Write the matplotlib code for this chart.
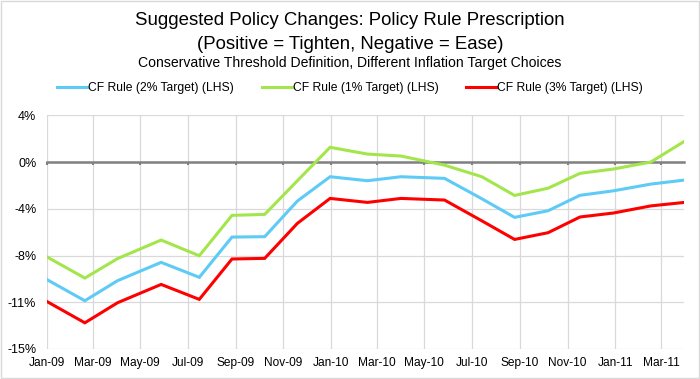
# Policy rule prescription chart (CF rule, three inflation targets)
import numpy as np
import pandas as pd
import matplotlib
matplotlib.use('Agg')
import matplotlib.pyplot as plt
import matplotlib.dates as mdates
from matplotlib.patches import Rectangle

plt.rcParams['font.family'] = ['Liberation Sans', 'DejaVu Sans']

# Data (meeting dates, values in %)
dates = pd.to_datetime([
    '2009-01-28', '2009-03-18', '2009-04-29', '2009-06-24', '2009-08-12',
    '2009-09-23', '2009-11-04', '2009-12-16', '2010-01-27', '2010-03-16',
    '2010-04-28', '2010-06-23', '2010-08-10', '2010-09-21', '2010-11-03',
    '2010-12-14', '2011-01-26', '2011-03-15', '2011-04-27'])

rule_2pct = [-9.42, -11.13, -9.52, -8.05, -9.25, -6.02, -5.99, -3.13, -1.18, -1.50,
             -1.18, -1.31, -2.95, -4.44, -3.91, -2.67, -2.31, -1.77, -1.45]
rule_1pct = [-7.60, -9.31, -7.75, -6.26, -7.52, -4.28, -4.20, -1.50, 1.18, 0.64,
             0.48, -0.25, -1.18, -2.68, -2.10, -0.91, -0.56, 0.00, 1.66]
rule_3pct = [-11.18, -12.90, -11.29, -9.82, -11.02, -7.78, -7.73, -4.92, -2.92, -3.24,
             -2.92, -3.05, -4.72, -6.21, -5.67, -4.41, -4.09, -3.52, -3.24]

series_names = ['CF Rule (2% Target) (LHS)', 'CF Rule (1% Target) (LHS)',
                'CF Rule (3% Target) (LHS)']
series_colors = ['#5DCBF5', '#A3E64B', '#FF0000']

y_ticks = [3.75, 0, -3.75, -7.5, -11.25, -15]
y_labels = ['4%', '0%', '-4%', '-8%', '-11%', '-15%']

x_ticks = pd.date_range('2009-01-28', periods=14, freq=pd.DateOffset(months=2))
x_labels = [d.strftime('%b-%y') for d in x_ticks]

# Figure
fig = plt.figure(figsize=(7, 3.79), dpi=100)
ax = fig.add_axes([0.0667, 0.0792, 0.9109, 0.6166])

for vals, name, col in zip([rule_2pct, rule_1pct, rule_3pct], series_names, series_colors):
    ax.plot(mdates.date2num(dates), vals, color=col, lw=2.2, label=name,
            solid_joinstyle='miter', zorder=3)

xnum = mdates.date2num(x_ticks)
ax.set_xlim(mdates.date2num(dates[0]), mdates.date2num(dates[-1]))
ax.set_ylim(-15, 3.75)

# gridlines
ax.set_yticks(y_ticks)
ax.set_yticklabels(y_labels, fontsize=9)
ax.set_xticks(xnum)
ax.grid(True, color='#d9d9d9', lw=0.9, zorder=0)
ax.set_axisbelow(True)

# zero axis with ticks
for s in ['left', 'right', 'top']:
    ax.spines[s].set_visible(False)
ax.spines['bottom'].set_position(('data', 0))
ax.spines['bottom'].set_color('#808080')
ax.spines['bottom'].set_linewidth(1.8)
ax.spines['bottom'].set_zorder(2)
ax.tick_params(axis='x', direction='out', length=2.5, width=1.5, color='#808080',
               labelbottom=False)
ax.tick_params(axis='y', length=0, pad=7.5)

# date labels along the bottom
sec = ax.secondary_xaxis(0)
sec.set_xticks(xnum)
sec.set_xticklabels(x_labels, fontsize=8.6)
sec.tick_params(length=0, pad=6)
sec.spines['bottom'].set_visible(False)

# titles
fig.text(0.5, 0.945, 'Suggested Policy Changes: Policy Rule Prescription',
         ha='center', va='center', fontsize=13.4)
fig.text(0.5, 0.882, '(Positive = Tighten, Negative = Ease)',
         ha='center', va='center', fontsize=13.4)
fig.text(0.5, 0.835, 'Conservative Threshold Definition, Different Inflation Target Choices',
         ha='center', va='center', fontsize=10.1)

fig.legend(loc='center', bbox_to_anchor=(0.5, 0.768), ncol=3, frameon=False,
           fontsize=8.7, handlelength=2.5, handletextpad=0.08, columnspacing=2.3)

fig.patches.append(Rectangle((0.002, 0.003), 0.996, 0.994, transform=fig.transFigure,
                             fill=False, edgecolor='#d9d9d9', lw=1))

fig.savefig('out.png', dpi=100)
